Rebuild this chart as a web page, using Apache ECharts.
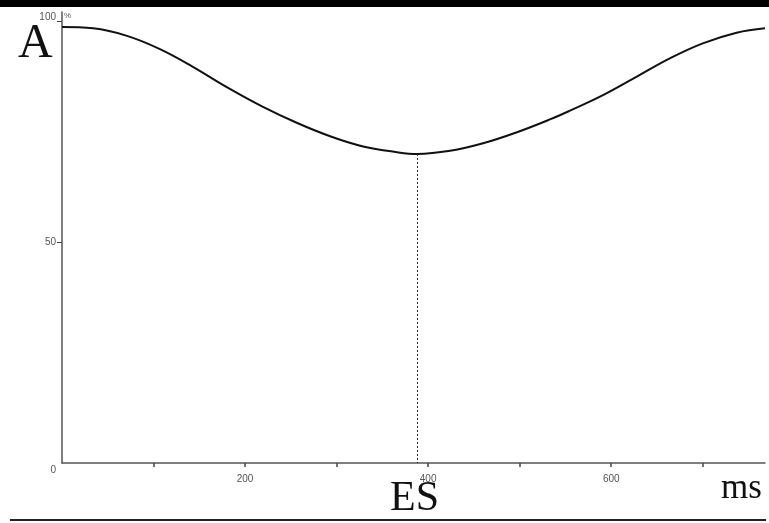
<!DOCTYPE html>
<html>
<head>
<meta charset="utf-8">
<script src="https://cdn.jsdelivr.net/npm/echarts@6/dist/echarts.min.js"></script>
<style>
  html, body { margin: 0; padding: 0; background: #fff; }
  #chart { width: 769px; height: 523px; }
</style>
</head>
<body>
<div id="chart"></div>
<script>
// Time in ms over one cycle and the relative value in %
const timeMs = [0, 34, 71, 107, 143, 180, 219, 257, 293, 329, 366, 388, 424, 460, 497, 533, 555, 591, 628, 664, 700, 737, 768];
const valuePct = [98.6, 98.3, 96.6, 93.6, 89.6, 85.0, 80.6, 76.9, 73.9, 71.6, 70.3, 69.9, 70.6, 72.3, 74.8, 77.7, 79.7, 83.2, 87.4, 91.5, 94.9, 97.3, 98.3];

// End-systole marker (minimum of the curve)
const esTime = 388;
const esValue = 69.9;

// Axis ticks and labels
const xTicks = [100, 200, 300, 400, 500, 600, 700];
const xLabels = [200, 400, 600];
const yTicks = [50, 100];
const yLabels = [0, 50, 100];

const points = timeMs.map((t, i) => [t, valuePct[i]]);

const chart = echarts.init(document.getElementById('chart'), null, { renderer: 'canvas' });

const tickFont = { fontFamily: 'Liberation Sans, Arial, sans-serif', fontSize: 10, color: '#555' };
const serif = 'Liberation Serif, Times New Roman, serif';

chart.setOption({
  backgroundColor: '#ffffff',
  animation: false,
  grid: { left: 62, right: 4, top: 12, bottom: 60 },
  xAxis: {
    type: 'value',
    min: 0,
    max: 768,
    splitLine: { show: false },
    axisLine: { lineStyle: { color: '#555', width: 1.5 } },
    axisTick: { show: true, customValues: xTicks, length: 4, lineStyle: { color: '#444', width: 1.5 } },
    axisLabel: { customValues: xLabels, margin: 11, ...tickFont }
  },
  yAxis: {
    type: 'value',
    min: 0,
    max: 102,
    splitLine: { show: false },
    axisLine: { show: true, lineStyle: { color: '#555', width: 1.5 } },
    axisTick: { show: true, customValues: yTicks, length: 5, lineStyle: { color: '#444', width: 1 } },
    axisLabel: {
      customValues: yLabels,
      margin: 6,
      ...tickFont,
      formatter: v => v === 0 ? '{lo|0}' : (v === 100 ? '{hi|100}' : String(v)),
      rich: {
        lo: { ...tickFont, padding: [14, 0, 0, 0] },
        hi: { ...tickFont, padding: [0, 0, 8, 0] }
      }
    }
  },
  series: [{
    type: 'line',
    data: points,
    smooth: 0.4,
    showSymbol: false,
    lineStyle: { color: '#111', width: 2 },
    markLine: {
      silent: true,
      symbol: 'none',
      label: { show: false },
      lineStyle: { color: '#222', type: [2, 2], width: 1 },
      data: [[{ coord: [esTime, esValue] }, { coord: [esTime, 0] }]]
    }
  }],
  graphic: [
    { type: 'rect', left: 0, top: 0, shape: { width: 769, height: 7 }, style: { fill: '#000' } },
    { type: 'rect', left: 10, top: 519, shape: { width: 756, height: 2 }, style: { fill: '#222' } },
    { type: 'text', left: 18, top: 20, style: { text: 'A', font: '48px ' + serif, fill: '#111' } },
    { type: 'text', left: 64, top: 12, style: { text: '%', font: '8px Liberation Sans, sans-serif', fill: '#555' } },
    { type: 'text', left: 390, top: 478, style: { text: 'ES', font: '42px ' + serif, fill: '#111' } },
    { type: 'text', left: 721, top: 471, style: { text: 'ms', font: '35px ' + serif, fill: '#111' } }
  ]
});
</script>
</body>
</html>
